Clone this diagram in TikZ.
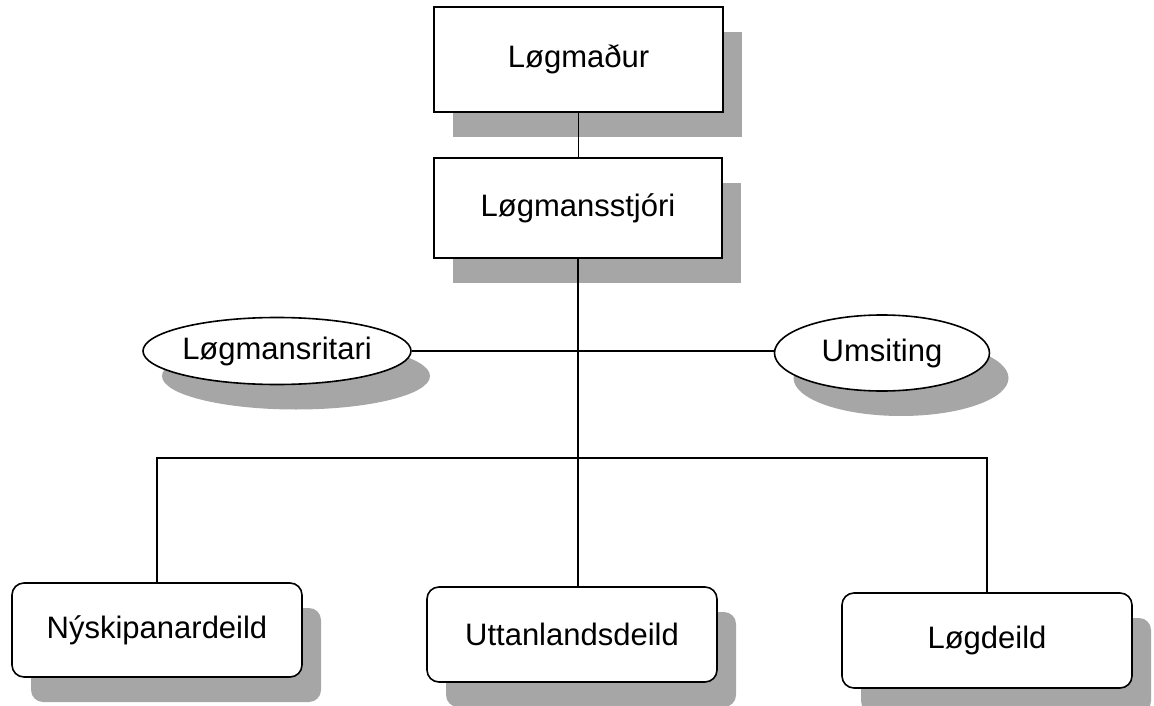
\documentclass[tikz,border=0pt]{standalone}
\usepackage{fontspec}
\setmainfont{Liberation Sans}
\usetikzlibrary{shapes.geometric,shadows}
\begin{document}
\begin{tikzpicture}[x=1pt,y=-1pt,
  every node/.style={font=\fontsize{31}{36}\selectfont},
  shade/.style={drop shadow={shadow xshift=19pt,shadow yshift=-25pt,fill=black!35,opacity=1}},
  sqbox/.style={draw,line width=1.6pt,fill=white,rectangle,inner sep=0pt,shade},
  rbox/.style={draw,line width=1.6pt,fill=white,rectangle,rounded corners=12pt,inner sep=0pt,shade},
  ell/.style={draw,line width=1.6pt,fill=white,ellipse,inner sep=0pt,shade},
  link/.style={draw,line width=1.1pt}]
\useasboundingbox (0,0) rectangle (1154,706);
\node[sqbox,minimum width=289pt,minimum height=105pt] (lm) at (578.5,59.5) {Løgmaður};
\node[sqbox,minimum width=288pt,minimum height=100pt] (ls) at (578,208) {Løgmansstjóri};
\node[ell,minimum width=232pt,minimum height=67pt] (lr) at (277,351) {Løgmansritari};
\node[ell,minimum width=215pt,minimum height=76pt] (um) at (882,353) {Umsiting};
\node[rbox,minimum width=290pt,minimum height=94pt] (ny) at (157,630) {Nýskipanardeild};
\node[rbox,minimum width=290pt,minimum height=95pt] (ut) at (572,634.5) {Uttanlandsdeild};
\node[rbox,minimum width=290pt,minimum height=95pt] (ld) at (987,640.5) {Løgdeild};
\coordinate (j) at (576,458);
\path[link] (lm.south) -- (lm.south |- ls.north);
\path[link] (ls.south) -- (ls.south |- ut.north);
\path[link] (lr.east) -- (um.west |- lr.east);
\path[link] (ny.north) |- (j) -| (ld.north);
\end{tikzpicture}
\end{document}
